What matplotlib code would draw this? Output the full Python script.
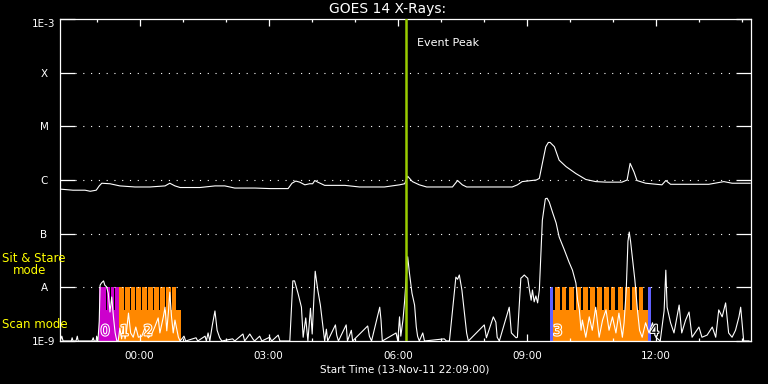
import matplotlib
matplotlib.use('Agg')
import numpy as np
import matplotlib.pyplot as plt
import matplotlib.patheffects as pe
from matplotlib.ticker import FixedLocator, NullLocator

# times are hours from 14-Nov-11 00:00 UT, flux given as log10(W/m^2)
t_long = [-1.85, -1.55, -1.27, -1.15, -1.01, -0.94, -0.88, -0.69, -0.46, -0.11, 0.24, 0.59,
          0.70, 0.82, 0.94, 1.40, 1.75, 1.98, 2.21, 2.68, 3.03, 3.45, 3.54, 3.63, 3.72, 3.84,
          3.95, 4.02, 4.07, 4.14, 4.30, 4.77, 5.11, 5.69, 6.04, 6.16, 6.23, 6.34, 6.50, 6.67,
          7.27, 7.34, 7.39, 7.50, 7.60, 8.13, 8.66, 8.78, 8.89, 9.22, 9.29, 9.36, 9.44, 9.50,
          9.54, 9.64, 9.75, 9.91, 10.14, 10.37, 10.60, 10.84, 11.21, 11.33, 11.40, 11.49,
          11.56, 11.76, 12.14, 12.23, 12.34, 12.77, 13.23, 13.58, 13.77, 14.19]
log_long = [-6.17, -6.19, -6.19, -6.21, -6.19, -6.11, -6.06, -6.07, -6.11, -6.13, -6.13, -6.11,
            -6.06, -6.11, -6.14, -6.14, -6.11, -6.11, -6.15, -6.15, -6.16, -6.16, -6.06, -6.02,
            -6.04, -6.09, -6.07, -6.07, -6.01, -6.04, -6.10, -6.10, -6.13, -6.13, -6.09, -6.07,
            -5.93, -6.03, -6.09, -6.13, -6.13, -6.06, -6.01, -6.09, -6.13, -6.13, -6.13, -6.09,
            -6.03, -6.00, -5.97, -5.69, -5.38, -5.30, -5.30, -5.38, -5.63, -5.75, -5.88, -5.99,
            -6.03, -6.04, -6.04, -6.00, -5.69, -5.85, -6.01, -6.06, -6.09, -6.01, -6.08, -6.08,
            -6.08, -6.03, -6.06, -6.06]

t_short = [-1.85, -1.81, -1.78, -1.59, -1.57, -1.55, -1.48, -1.45, -1.43, -1.11, -1.08, -1.06,
           -1.01, -1.00, -0.97, -0.94, -0.92, -0.89, -0.84, -0.81, -0.77, -0.73, -0.69, -0.65,
           -0.61, -0.57, -0.53, -0.50, -0.46, -0.42, -0.38, -0.34, -0.31, -0.26, -0.21, -0.15,
           -0.09, -0.03, 0.05, 0.12, 0.20, 0.28, 0.35, 0.43, 0.47, 0.55, 0.59, 0.63, 0.67, 0.70,
           0.74, 0.78, 0.82, 0.87, 0.90, 0.94, 1.03, 1.07, 1.31, 1.35, 1.52, 1.55, 1.59, 1.63,
           1.69, 1.75, 1.80, 1.86, 1.91, 2.16, 2.21, 2.40, 2.44, 2.56, 2.63, 2.67, 2.79, 2.84,
           3.02, 3.07, 3.22, 3.26, 3.49, 3.56, 3.60, 3.68, 3.76, 3.80, 3.86, 3.91, 3.97, 4.01,
           4.08, 4.14, 4.20, 4.25, 4.30, 4.34, 4.37, 4.55, 4.58, 4.62, 4.80, 4.83, 4.92, 4.95,
           5.30, 5.34, 5.39, 5.58, 5.61, 5.64, 5.96, 6.00, 6.04, 6.07, 6.12, 6.16, 6.19, 6.23,
           6.27, 6.33, 6.39, 6.43, 6.46, 6.50, 6.58, 6.62, 7.08, 7.13, 7.20, 7.28, 7.35, 7.39,
           7.43, 7.49, 7.55, 7.60, 7.64, 8.01, 8.06, 8.22, 8.28, 8.31, 8.36, 8.59, 8.64, 8.75,
           8.78, 8.82, 8.86, 8.89, 8.94, 8.99, 9.02, 9.06, 9.10, 9.13, 9.17, 9.21, 9.25, 9.29,
           9.33, 9.36, 9.43, 9.47, 9.52, 9.60, 9.68, 9.75, 9.87, 9.98, 10.06, 10.14, 10.18,
           10.22, 10.26, 10.29, 10.37, 10.45, 10.52, 10.60, 10.68, 10.76, 10.84, 10.91, 10.99,
           11.07, 11.14, 11.22, 11.26, 11.31, 11.35, 11.38, 11.41, 11.45, 11.51, 11.57, 11.62,
           11.68, 11.76, 11.84, 11.92, 12.00, 12.10, 12.19, 12.23, 12.26, 12.34, 12.42, 12.54,
           12.60, 12.69, 12.77, 12.84, 13.00, 13.07, 13.19, 13.31, 13.39, 13.46, 13.54, 13.62,
           13.69, 13.77, 13.85, 13.93, 13.97, 14.04, 14.16]
log_short = [-9.0, -8.91, -9.0, -9.0, -8.94, -9.0, -9.0, -8.91, -9.0, -9.0, -8.94, -9.0,
             -9.0, -8.91, -9.0, -8.63, -7.96, -7.92, -7.88, -7.96, -7.99, -8.11, -8.46, -8.18,
             -8.55, -8.85, -9.0, -9.0, -8.76, -8.96, -8.74, -8.96, -8.85, -8.48, -8.85, -8.93,
             -8.74, -8.93, -8.91, -8.76, -8.94, -8.87, -8.74, -8.57, -8.85, -8.55, -8.37, -8.81,
             -8.44, -8.09, -8.55, -8.85, -8.61, -8.81, -8.93, -9.0, -8.91, -9.0, -8.94, -9.0,
             -8.91, -9.0, -8.85, -9.0, -8.70, -8.44, -8.80, -8.94, -9.0, -8.96, -9.0, -8.87,
             -9.0, -8.87, -8.96, -9.0, -8.91, -9.0, -8.93, -9.0, -8.89, -9.0, -9.0, -7.88,
             -7.88, -8.11, -8.37, -8.93, -8.57, -9.0, -8.39, -8.87, -7.70, -8.05, -8.33, -8.66,
             -9.0, -8.78, -9.0, -8.70, -8.89, -9.0, -8.70, -9.0, -8.80, -9.0, -8.72, -8.91,
             -9.0, -8.37, -8.61, -9.0, -8.85, -9.0, -8.55, -8.91, -8.61, -8.24, -7.88, -7.43,
             -7.73, -8.11, -8.33, -8.74, -8.91, -9.0, -8.85, -9.0, -8.96, -9.0, -9.0, -8.37,
             -7.81, -7.85, -7.77, -8.05, -8.48, -8.85, -9.0, -8.70, -8.94, -8.55, -8.65, -8.93,
             -9.0, -8.37, -8.85, -8.94, -8.93, -8.37, -7.83, -7.81, -7.77, -7.81, -7.83, -8.05,
             -8.24, -8.05, -8.27, -8.16, -8.29, -8.05, -7.30, -6.75, -6.35, -6.34, -6.41, -6.61,
             -6.80, -7.06, -7.30, -7.53, -7.68, -7.92, -8.24, -8.42, -8.80, -8.61, -8.93, -8.55,
             -8.80, -8.37, -8.93, -8.61, -8.42, -8.80, -8.55, -8.85, -8.48, -8.93, -8.66, -8.05,
             -7.14, -6.97, -7.14, -7.43, -7.86, -8.42, -8.80, -8.93, -8.66, -8.85, -8.66, -8.93,
             -9.0, -8.44, -7.68, -8.37, -8.66, -8.85, -8.33, -8.85, -8.61, -8.46, -8.93, -8.74,
             -8.93, -8.89, -8.74, -8.93, -8.42, -8.55, -8.29, -8.85, -8.93, -8.80, -8.55, -8.37,
             -9.0, -9.0]

event_peak = 6.19

# observation blocks (hours): sit & stare in magenta, scan mode in orange, boundaries in blue
stare_start, stare_end = -0.94, -0.49
stare_teeth_start = [-0.94, -0.76, -0.66, -0.57]
stare_teeth_end = [-0.78, -0.68, -0.59, -0.49]
scan_blocks_start = [-0.49, 9.60]
scan_blocks_end = [0.95, 11.81]
scan_teeth_start = [-0.49, -0.33, -0.21, -0.08, 0.06, 0.19, 0.33, 0.47, 0.61, 0.75,
                    9.66, 9.82, 9.99, 10.15, 10.31, 10.47, 10.63, 10.80, 10.96, 11.12,
                    11.28, 11.45, 11.61]
scan_teeth_end = [-0.36, -0.23, -0.10, 0.03, 0.17, 0.30, 0.44, 0.58, 0.72, 0.84,
                  9.76, 9.92, 10.09, 10.25, 10.41, 10.58, 10.74, 10.90, 11.06, 11.23,
                  11.39, 11.55, 11.71]
edge_start = [9.535, 11.813]
edge_end = [9.60, 11.875]
scan_level = 3.8e-9
stare_level = 1e-8
obs_labels = ['0', '1', '2', '3', '4']
obs_label_t = [-0.91, -0.46, 0.09, 9.61, 11.86]
obs_label_col = ['#cc00cc', '#ff8800', '#ff8800', '#ff8800', '#000000']

# y axis levels
level_vals = [1e-9, 1e-8, 1e-7, 1e-6, 1e-5, 1e-4, 1e-3]
level_labels = ['1E-9', 'A', 'B', 'C', 'M', 'X', '1E-3']
hour_major = [0, 3, 6, 9, 12]
hour_labels = ['00:00', '03:00', '06:00', '09:00', '12:00']
hour_minor = list(range(-1, 15))

mag = '#cc00cc'
orng = '#ff8800'
blu = '#6060ff'
peak_col = '#99cc00'
yel = '#ffff00'

fig = plt.figure(figsize=(7.68, 3.84), dpi=100, facecolor='black')
ax = fig.add_axes([60/768, 43/384, 691/768, 322/384])
ax.set_facecolor('black')
ax.set_yscale('log')
ax.set_xlim(-1.852, 14.21)
ax.set_ylim(1e-9, 1e-3)

base = 1e-9
# scan-mode base blocks
ax.bar(scan_blocks_start, [scan_level - base]*len(scan_blocks_start),
       width=np.array(scan_blocks_end) - np.array(scan_blocks_start),
       bottom=base, align='edge', color=orng, linewidth=0, zorder=1)
ax.bar(scan_teeth_start, [stare_level - base]*len(scan_teeth_start),
       width=np.array(scan_teeth_end) - np.array(scan_teeth_start),
       bottom=base, align='edge', color=orng, linewidth=0, zorder=1)
# sit & stare block
ax.bar([stare_start], [scan_level - base], width=stare_end - stare_start,
       bottom=base, align='edge', color=mag, linewidth=0, zorder=1)
ax.bar(stare_teeth_start, [stare_level - base]*len(stare_teeth_start),
       width=np.array(stare_teeth_end) - np.array(stare_teeth_start),
       bottom=base, align='edge', color=mag, linewidth=0, zorder=1)
ax.bar(edge_start, [stare_level - base]*len(edge_start),
       width=np.array(edge_end) - np.array(edge_start),
       bottom=base, align='edge', color=blu, linewidth=0, zorder=1)

ax.plot(t_long, 10**np.array(log_long), color='white', lw=0.8, zorder=3)
ax.plot(t_short, 10**np.array(log_short), color='white', lw=0.8, zorder=3)

# hollow block numbers
for lab, t, c in zip(obs_labels, obs_label_t, obs_label_col):
    ax.text(t, 1.12e-9, lab, color=c, fontsize=10.5, ha='left', va='bottom', zorder=4,
            path_effects=[pe.withStroke(linewidth=1.6, foreground='white')])

# dotted level lines
for v in level_vals[1:-1]:
    ax.axhline(v, xmin=15/691, xmax=1-15/691, color='white', lw=0.8,
               linestyle=(0, (1, 6)), zorder=2)

ax.axvline(event_peak, color=peak_col, lw=1.8, zorder=5)
ax.text(event_peak + 0.25, 10**-3.45, 'Event Peak', color='white', fontsize=8,
        ha='left', va='center')

# axes styling
for s in ax.spines.values():
    s.set_color('white')
    s.set_linewidth(0.9)
ax.yaxis.set_major_locator(FixedLocator(level_vals))
ax.yaxis.set_minor_locator(NullLocator())
ax.set_yticklabels(level_labels)
ax.xaxis.set_major_locator(FixedLocator(hour_major))
ax.xaxis.set_minor_locator(FixedLocator(hour_minor))
ax.set_xticklabels(hour_labels)
ax.tick_params(axis='y', which='major', direction='in', length=10.8, width=0.9,
               colors='white', labelsize=7.5, pad=11.5, right=True)
ax.tick_params(axis='x', which='major', direction='in', length=4.8, width=0.9,
               colors='white', labelsize=7.5, pad=7, top=True)
ax.tick_params(axis='x', which='minor', direction='in', length=2.4, width=0.9,
               colors='white', top=True)
for lab in ax.get_yticklabels():
    lab.set_horizontalalignment('center')
ax.get_yticklabels()[-1].set_verticalalignment('top')

fig.text(388/768, 1 - 9/384, 'GOES 14 X-Rays:', color='white', fontsize=10,
         ha='center', va='center')
fig.text(405/768, 1 - 369/384, 'Start Time (13-Nov-11 22:09:00)', color='white',
         fontsize=7.5, ha='center', va='center')
fig.text(2/768, 1 - 259/384, 'Sit & Stare', color=yel, fontsize=8.5, ha='left', va='center')
fig.text(13/768, 1 - 271/384, 'mode', color=yel, fontsize=8.5, ha='left', va='center')
fig.text(2/768, 1 - 324/384, 'Scan mode', color=yel, fontsize=8.5, ha='left', va='center')

fig.savefig('out.png', dpi=100, facecolor='black')
